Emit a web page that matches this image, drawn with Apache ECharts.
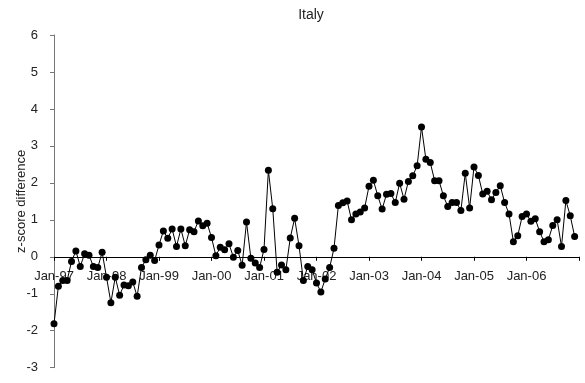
<!DOCTYPE html>
<html>
<head>
<meta charset="utf-8">
<script src="https://cdn.jsdelivr.net/npm/echarts@6/dist/echarts.min.js"></script>
<style>
html,body{margin:0;padding:0;background:#fff;}
#chart{width:585px;height:383px;}
</style>
</head>
<body>
<div id="chart"></div>
<script>
// Tick labels on the x axis (one per January)
var tickLabels = ["Jan-97","Jan-98","Jan-99","Jan-00","Jan-01","Jan-02","Jan-03","Jan-04","Jan-05","Jan-06"];
// Monthly z-score differences, Jan-97 .. Dec-06
var y1997 = [-1.81, -0.80, -0.64, -0.64, -0.13, 0.16, -0.26, 0.08, 0.04, -0.26, -0.29, 0.12];
var y1998 = [-0.55, -1.24, -0.55, -1.04, -0.76, -0.78, -0.68, -1.07, -0.29, -0.08, 0.04, -0.10];
var y1999 = [0.32, 0.70, 0.50, 0.75, 0.28, 0.75, 0.30, 0.73, 0.68, 0.97, 0.84, 0.91];
var y2000 = [0.52, 0.03, 0.26, 0.19, 0.35, -0.01, 0.17, -0.23, 0.94, -0.04, -0.17, -0.29];
var y2001 = [0.20, 2.34, 1.30, -0.42, -0.22, -0.35, 0.51, 1.04, 0.30, -0.64, -0.26, -0.35];
var y2002 = [-0.71, -0.95, -0.60, -0.29, 0.23, 1.39, 1.46, 1.51, 1.00, 1.16, 1.21, 1.32];
var y2003 = [1.91, 2.07, 1.65, 1.29, 1.69, 1.71, 1.47, 1.99, 1.56, 2.04, 2.19, 2.46];
var y2004 = [3.51, 2.64, 2.55, 2.06, 2.06, 1.65, 1.36, 1.47, 1.47, 1.25, 2.26, 1.32];
var y2005 = [2.43, 2.20, 1.70, 1.77, 1.54, 1.74, 1.92, 1.47, 1.16, 0.41, 0.57, 1.09];
var y2006 = [1.16, 0.96, 1.03, 0.68, 0.41, 0.46, 0.85, 1.00, 0.28, 1.52, 1.11, 0.55];

var values = [].concat(y1997, y1998, y1999, y2000, y2001, y2002, y2003, y2004, y2005, y2006);
var seriesData = values.map(function (v, i) { return [i, v]; });

var font = 'Liberation Sans, Arial, sans-serif';
var chart = echarts.init(document.getElementById('chart'), null, {renderer: 'canvas'});
var yMin = -3, yMax = 6;
chart.setOption({
  animation: false,
  backgroundColor: '#ffffff',
  title: {
    text: 'Italy',
    left: 306, top: 3, textAlign: 'center',
    textStyle: {fontFamily: font, fontSize: 14, fontWeight: 'normal', color: '#222'}
  },
  grid: {left: 54, right: 6, top: 35, bottom: 15.3, containLabel: false, outerBoundsMode: 'none'},
  xAxis: {
    type: 'value', min: 0, max: 120, interval: 12,
    position: 'bottom', offset: 0,
    axisLine: {onZero: false, lineStyle: {color: '#000', width: 1}},
    axisTick: {show: true, inside: false, length: 4, lineStyle: {color: '#000'}},
    axisLabel: {
      fontFamily: font, fontSize: 13, color: '#222', margin: 13,
      hideOverlap: false,
      formatter: function (v) { var k = Math.round(v / 12); return (k < tickLabels.length) ? tickLabels[k] : ''; }
    },
    splitLine: {show: false}
  },
  yAxis: {
    type: 'value', min: yMin, max: yMax, interval: 1,
    name: 'z-score difference', nameLocation: 'middle', nameGap: 26,
    nameMoveOverlap: false,
    nameTextStyle: {fontFamily: font, fontSize: 13, color: '#222'},
    axisLine: {show: true, onZero: false, lineStyle: {color: '#777', width: 1}},
    axisTick: {show: true, length: 4, lineStyle: {color: '#777'}},
    axisLabel: {fontFamily: font, fontSize: 13, color: '#222', margin: 16},
    splitLine: {show: false}
  },
  series: [{
    type: 'line',
    data: seriesData,
    symbol: 'circle', symbolSize: 7,
    itemStyle: {color: '#000'},
    lineStyle: {color: '#000', width: 1},
    z: 3
  }]
});
// Move the x axis up so it crosses the y axis at value 0 (as the source chart does)
var pZero = chart.convertToPixel({yAxisIndex: 0}, 0);
var pBottom = chart.convertToPixel({yAxisIndex: 0}, yMin);
chart.setOption({xAxis: {offset: pZero - pBottom}});
</script>
</body>
</html>
